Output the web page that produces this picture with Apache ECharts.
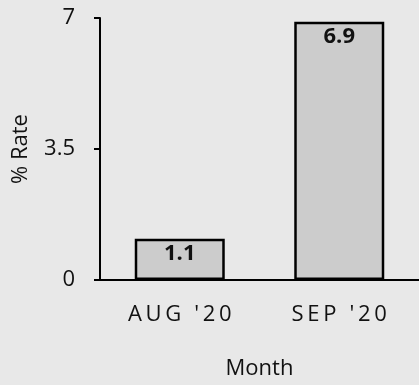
<!DOCTYPE html>
<html>
<head>
<meta charset="utf-8">
<script src="https://cdn.jsdelivr.net/npm/echarts@6/dist/echarts.min.js"></script>
<style>
  html, body { margin: 0; padding: 0; background: #e8e8e8; }
  #chart { width: 419px; height: 385px; }
</style>
</head>
<body>
<div id="chart"></div>
<script>
// Monthly rate data
const months = ["AUG '20", "SEP '20"];
const rates = [1.1, 6.9];
const yTicks = [0, 3.5, 7];

const FONT = "'Open Sans', 'Liberation Sans', sans-serif";

// spread out month labels with narrow spaces
function spaced(s) {
  return s.split('').join('\u2006');
}

const chart = echarts.init(document.getElementById('chart'), null, { renderer: 'canvas' });
chart.setOption({
  backgroundColor: '#e8e8e8',
  animation: false,
  grid: { left: 100, right: -2, top: 18, bottom: 102, containLabel: false },
  xAxis: {
    type: 'category',
    data: months,
    name: 'Month',
    nameLocation: 'middle',
    nameGap: 78,
    nameTextStyle: { fontFamily: FONT, fontSize: 22, color: '#111' },
    axisLine: { lineStyle: { color: '#000', width: 2 } },
    axisTick: { show: false },
    axisLabel: {
      fontFamily: FONT, fontSize: 22, color: '#111', margin: 24,
      formatter: spaced
    }
  },
  yAxis: {
    type: 'value',
    min: 0, max: 7, interval: 3.5,
    name: '% Rate',
    nameLocation: 'middle',
    nameGap: 68,
    nameRotate: 90,
    nameTextStyle: { fontFamily: FONT, fontSize: 22, color: '#111' },
    axisLine: { show: true, lineStyle: { color: '#000', width: 2 } },
    axisTick: { show: true, length: 6, lineStyle: { color: '#000', width: 2 } },
    splitLine: { show: false },
    axisLabel: {
      fontFamily: FONT, fontSize: 22, color: '#111', margin: 25,
      formatter: v => yTicks.includes(v) ? String(v) : ''
    }
  },
  series: [{
    type: 'bar',
    data: rates,
    barWidth: 90,
    itemStyle: { color: '#cccccc', borderColor: '#000', borderWidth: 2.5 },
    label: {
      show: true,
      position: 'insideTop',
      distance: 4,
      fontFamily: FONT, fontSize: 22, fontWeight: 'bold', color: '#111'
    }
  }]
});
</script>
</body>
</html>
